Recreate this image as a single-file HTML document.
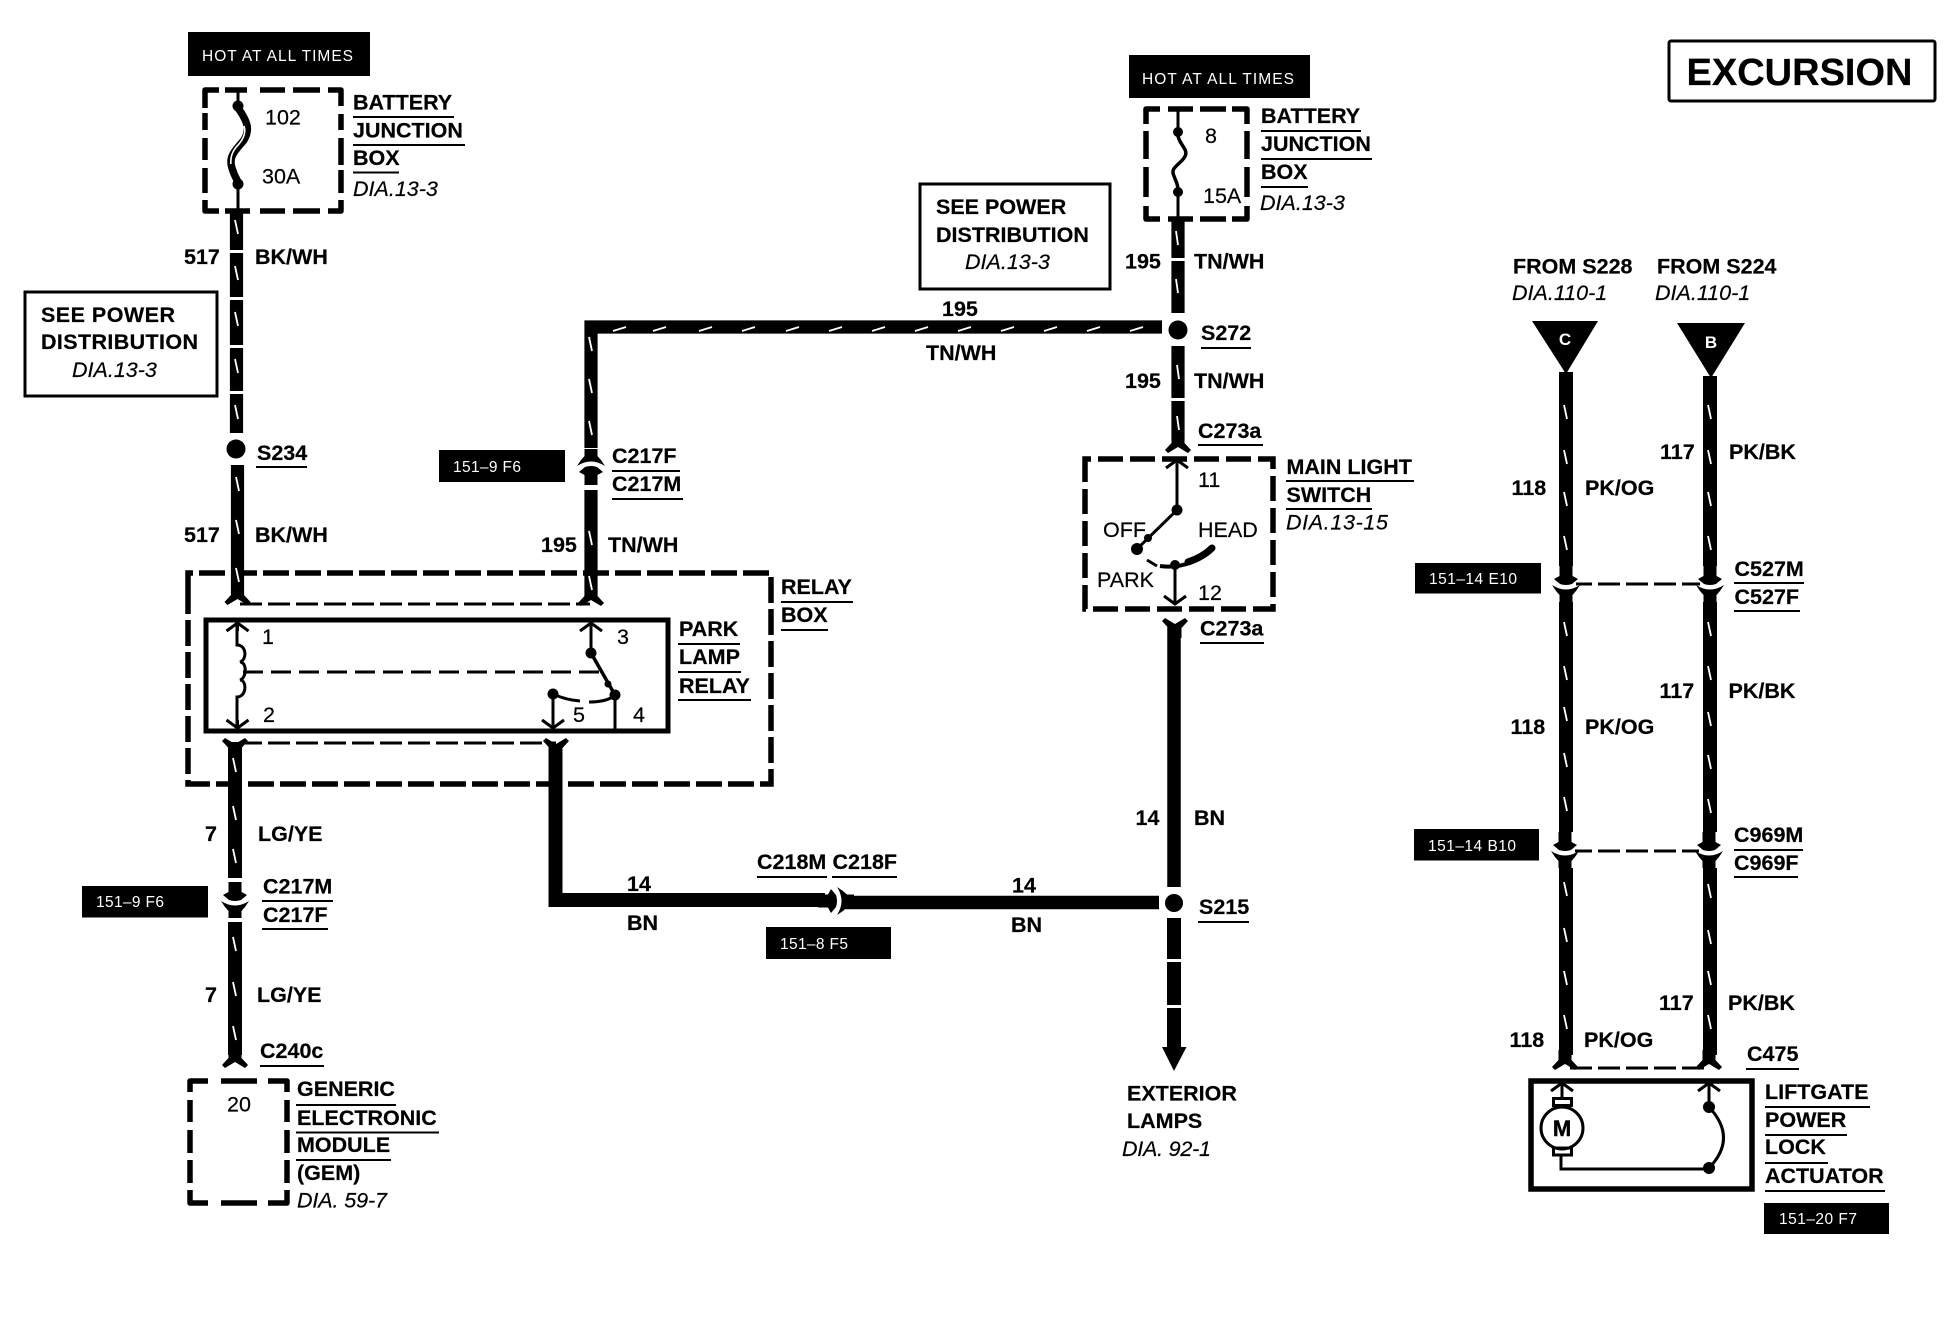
<!DOCTYPE html>
<html><head><meta charset="utf-8"><title>Excursion wiring diagram</title>
<style>
html,body{margin:0;padding:0;background:#fff}
svg{display:block}
text{font-family:"Liberation Sans",Arial,sans-serif;fill:#000;font-size:21.5px;stroke:#000;stroke-width:.2px}
.b{font-weight:bold;stroke-width:.4px}
.i{font-style:italic;stroke-width:.1px}
.w{fill:#fff;font-size:15.5px;stroke:none}
.g{stroke:#000;fill:none}
</style></head><body>
<svg xmlns="http://www.w3.org/2000/svg" width="1960" height="1344" viewBox="0 0 1960 1344">
<defs>
<g id="cd"><path d="M-6.5,-18H6.5V-8L12,-5 6,0Q0,2 -6,0L-12,-5 -6.5,-8Z"/><path d="M-14,1Q0,10 14,1L10,7 6.5,11V18H-6.5V11L-10,7Z"/></g>
<g id="cu"><use href="#cd" transform="scale(1,-1)"/></g>
<path id="fd" d="M-6.5,-16H6.5V-6L13,1 10,4 0,-2 -10,4 -13,1 -6.5,-6Z"/>
<path id="ca" d="M-11,8L0,0 11,8M0,0V8" fill="none" stroke="#000" stroke-width="3"/>
<path id="cv" d="M-11,-8L0,0 11,-8M0,0V-8" fill="none" stroke="#000" stroke-width="3"/>
</defs>
<rect width="1960" height="1344" fill="#fff"/>

<!-- black tag boxes -->
<g fill="#000">
<rect x="188" y="32" width="182" height="44"/>
<rect x="1129" y="55" width="181" height="43"/>
<rect x="439" y="450" width="126" height="32"/>
<rect x="82" y="886" width="126" height="31.5"/>
<rect x="766" y="927" width="125" height="32"/>
<rect x="1415" y="563" width="126" height="30.5"/>
<rect x="1414" y="829" width="125" height="31.5"/>
<rect x="1764" y="1203" width="125" height="31"/>
</g>
<text class="w" x="202" y="61" textLength="151">HOT AT ALL TIMES</text>
<text class="w" x="1142" y="84" textLength="152">HOT AT ALL TIMES</text>
<text class="w" x="453" y="472" textLength="68">151–9 F6</text>
<text class="w" x="96" y="907" textLength="68">151–9 F6</text>
<text class="w" x="780" y="949" textLength="68">151–8 F5</text>
<text class="w" x="1429" y="584" textLength="88">151–14 E10</text>
<text class="w" x="1428" y="851" textLength="88">151–14 B10</text>
<text class="w" x="1779" y="1224" textLength="78">151–20 F7</text>

<!-- solid label boxes -->
<g class="g" stroke-width="3">
<rect x="25" y="292" width="192" height="104"/>
<rect x="920" y="184" width="190" height="105"/>
<rect x="1669" y="41" width="266" height="60" rx="2"/>
</g>

<!-- dashed boxes -->
<g class="g" stroke-width="5.5" stroke-linejoin="round">
<path d="M205,108V90H219M225,90H247M260,90H285M293,90H320M328,90H341V106M341,114V130M341,138V165M341,170V193M341,200V211H328M320,211H293M285,211H260M250,211H225M219,211H205V200M205,193V168M205,160V138M205,130V113"/>
<path d="M1146,124V109H1160M1168,109H1193M1200,109H1226M1232,109H1247V124M1247,131V159M1247,167V197M1247,206V219H1232M1226,219H1200M1193,219H1168M1160,219H1146V206M1146,197V167M1146,159V131"/>
<path d="M190,1092V1081H208M221,1081H257M268,1081H287V1092M287,1100V1122M287,1130V1153M287,1160V1183M287,1190V1203H268M257,1203H221M208,1203H190V1190M190,1183V1160M190,1153V1130M190,1122V1100"/>
</g>
<path class="g" stroke-width="5.5" stroke-dasharray="26 6" d="M188,594V573H771V784H188Z"/>
<path class="g" stroke-width="5.5" stroke-dasharray="25 7" d="M1085,478V459H1273V609H1085Z"/>
<g class="g" stroke-width="3" stroke-dasharray="22 6">
<path d="M240,604H590"/>
<path d="M240,743H556"/>
<path d="M1570,584H1706"/>
<path d="M1570,851H1706"/>
<path d="M1570,1068H1706"/>
</g>
<rect class="g" x="206" y="620" width="462" height="111" stroke-width="5"/>
<rect class="g" x="1531" y="1081" width="221" height="108" stroke-width="5.5"/>

<!-- thick wires -->
<g class="g" stroke-width="13.2">
<path d="M236.5,213V250M236.5,253V297M236.5,300V345M236.5,348V391M236.5,394V433"/>
<path d="M237.5,465V595"/>
<path d="M591,597V327H1162" stroke-linejoin="miter"/>
<path d="M1178,219V258M1178,261V313M1178,346V398M1178,401V440"/>
<path d="M235,742V1055" stroke-width="14"/>
<path d="M1566,372V1055" stroke-width="14"/>
<path d="M1710,376V1055" stroke-width="14"/>
<path d="M1174,625V887" stroke-width="13.5"/>
<path d="M1174,918V959M1174,962V1005M1174,1008V1050" stroke-width="14"/>
<path d="M555.5,745V900H825" stroke-width="14"/>
<path d="M843,902.5H1159" stroke-width="13.5"/>
</g>
<rect x="583" y="440" width="16" height="50" fill="#fff"/>
<path d="M591,440V448" class="g" stroke-width="13.2"/>
<use href="#cu" x="591" y="467"/>
<rect x="225" y="878" width="20" height="44" fill="#fff"/>
<use href="#cd" x="235" y="900"/>
<rect x="1556" y="566" width="20" height="36" fill="#fff"/>
<use href="#cd" x="1566" y="584"/>
<rect x="1700" y="566" width="20" height="36" fill="#fff"/>
<use href="#cd" x="1710" y="584"/>
<rect x="1555" y="832" width="20" height="36" fill="#fff"/>
<use href="#cd" x="1565" y="850"/>
<rect x="1699" y="832" width="20" height="36" fill="#fff"/>
<use href="#cd" x="1709" y="850"/>
<g transform="translate(836,901) rotate(-90)"><use href="#cd"/></g>

<!-- forks -->
<use href="#fd" x="237.5" y="601"/>
<use href="#fd" x="591" y="602"/>
<use href="#fd" x="1178" y="449"/>
<use href="#fd" x="235" y="1064"/>
<use href="#fd" x="1565" y="1066"/>
<use href="#fd" x="1709" y="1066"/>
<g transform="translate(235,742) scale(1,-1)"><use href="#fd"/></g>
<g transform="translate(556,742) scale(1,-1)"><use href="#fd"/></g>
<g transform="translate(1175,622) scale(1,-1)"><use href="#fd"/></g>

<!-- arrowhead, triangles, splices -->
<path d="M1162,1047H1186.5L1174,1071Z"/>
<path d="M1532,321H1598L1566,374Z"/>
<path d="M1677,323H1745L1711,378Z"/>
<circle cx="236" cy="449" r="9.5"/>
<circle cx="1178" cy="330" r="9.5"/>
<circle cx="1174" cy="903" r="9"/>
<text class="b" x="1565" y="345" text-anchor="middle" style="fill:#fff;font-size:17px;stroke:none">C</text>
<text class="b" x="1711" y="348" text-anchor="middle" style="fill:#fff;font-size:17px;stroke:none">B</text>

<!-- white tracer ticks -->
<g stroke="#fff" stroke-width="1.8" fill="none">
<path d="M235,220l3,14M235,266l3,14M235,312l3,14M235,359l3,14M235,405l3,14M236,477l3,14M236,520l3,14M236,568l3,14"/>
<path d="M589,337l3,14M589,379l3,14M589,421l3,14M589,531l3,14M589,576l3,14"/>
<path d="M613,331l13,-4M653,331l13,-4M699,331l13,-4M742,331l13,-4M786,331l13,-4M829,331l13,-4M872,331l13,-4M915,331l13,-4M958,331l13,-4M1001,331l13,-4M1044,331l13,-4M1087,331l13,-4M1130,331l13,-4"/>
<path d="M1176,231l2,14M1176,279l2,14M1177,365l2,14M1177,416l2,14"/>
<path d="M233,758l3,14M233,806l3,14M233,849l3,14M233,937l3,14M233,982l3,14M233,1026l3,14"/>
<path d="M1564,405l3,14M1564,450l3,14M1564,492l3,14M1564,536l3,14M1564,622l3,14M1564,666l3,14M1564,707l3,14M1564,753l3,14M1564,797l3,14M1564,882l3,14M1564,928l3,14M1564,971l3,14M1564,1015l3,14"/>
<path d="M1708,405l3,14M1708,450l3,14M1708,492l3,14M1708,536l3,14M1708,622l3,14M1708,666l3,14M1708,712l3,14M1708,755l3,14M1708,799l3,14M1708,884l3,14M1708,930l3,14M1708,971l3,14M1708,1015l3,14"/>
</g>

<!-- fuses -->
<path class="g" stroke-width="3" d="M238,90V104M238,184V213M1178,109V132M1178,192V219"/>
<circle cx="238" cy="106" r="5.5"/><circle cx="238" cy="184" r="5.5"/>
<circle cx="1178" cy="132" r="5"/><circle cx="1178" cy="192" r="5"/>
<path class="g" stroke-width="7.5" d="M238,108C248,122 250,130 244,140C236,150 228,156 232,168C234,175 236,178 238,182"/>
<path stroke="#fff" stroke-width="1.6" fill="none" d="M244,126C246,132 244,138 239,144C233,150 230,156 231,164"/>
<path class="g" stroke-width="3.5" d="M1178,136C1180,146 1190,150 1184,158C1178,166 1170,168 1174,176C1176,182 1178,184 1178,190"/>

<!-- relay internals -->
<use href="#ca" x="237.5" y="623"/>
<use href="#cv" x="237.5" y="728"/>
<use href="#ca" x="591" y="623"/>
<use href="#cv" x="553" y="728"/>
<g class="g" stroke-width="3">
<path d="M237,625V645C247,645 247,660 240,662C247,662 247,678 240,680C247,680 247,697 237,697V728"/>
<path d="M243,672H603" stroke-dasharray="20 8"/>
<path d="M591,625V652M615,697V730M553,694V728"/>
<path d="M553,694Q566,700 580,701M589,702Q606,702 614,696"/>
</g>
<path class="g" stroke-width="3.5" d="M591,653L615,695"/>
<circle cx="591" cy="653" r="5.5"/><circle cx="615" cy="695" r="5.5"/><circle cx="553" cy="694" r="5.5"/>
<circle cx="608" cy="684" r="3.5"/>

<!-- main light switch internals -->
<use href="#ca" x="1177" y="460"/>
<use href="#cv" x="1175" y="604"/>
<g class="g" stroke-width="3">
<path d="M1177,462V510L1137,549"/>
<path d="M1175,566V602"/>
<path d="M1147,560L1157,566"/>
</g>
<path class="g" stroke-width="4" d="M1160,566Q1190,570 1212,548"/>
<path class="g" stroke-width="7" stroke-linecap="round" d="M1188,562Q1203,557 1212,548"/>
<circle cx="1177" cy="510" r="5.5"/><circle cx="1137" cy="549" r="6"/><circle cx="1175" cy="565" r="5"/>
<circle cx="1148" cy="538" r="4"/>

<!-- actuator internals -->
<use href="#ca" x="1562" y="1083"/>
<use href="#ca" x="1709" y="1083"/>
<g class="g" stroke-width="3">
<path d="M1562,1085V1098M1709,1085V1107"/>
<rect x="1553.5" y="1098.5" width="18" height="7"/>
<rect x="1553.5" y="1148" width="18" height="7"/>
<circle cx="1562" cy="1128" r="21"/>
<path d="M1561,1155V1169H1709"/>
<path d="M1709,1107Q1738,1138 1709,1168"/>
</g>
<circle cx="1709" cy="1107" r="6"/><circle cx="1709" cy="1168" r="6"/>
<text class="b" x="1562" y="1136" text-anchor="middle" style="font-size:22px">M</text>

<!-- underlines -->
<path class="g" stroke-width="2" d="M353,117H454M353,145H465M353,172.5H399M1261,131H1361M1261,159H1372M1261,187H1308M256,467H307M612,471H680M612,499H683M1201,348H1251M1198,445H1263M1286,481H1414M1286,509H1372M1200,643H1264M781,602H853M781,630H828M678,644H740M678,672H741M678,700H751M262,901H333M262,929H328M260,1066H324M296,1105H396M296,1132.5H439M296,1160H391M757,877H827M832,877H897M1198,922H1249M1734,583H1804M1734,611H1800M1734,850H1803M1734,877H1798M1746,1069H1799M1765,1107H1870M1765,1135H1847M1765,1163H1828M1765,1191H1885"/>

<!-- bold labels -->
<g class="b">
<text x="353" y="109.5">BATTERY</text>
<text x="353" y="137.5">JUNCTION</text>
<text x="353" y="165">BOX</text>
<text x="1261" y="123">BATTERY</text>
<text x="1261" y="151">JUNCTION</text>
<text x="1261" y="179">BOX</text>
<text x="41" y="322" textLength="134">SEE POWER</text>
<text x="41" y="349" textLength="157">DISTRIBUTION</text>
<text x="936" y="214">SEE POWER</text>
<text x="936" y="242">DISTRIBUTION</text>
<text x="184" y="264">517</text>
<text x="255" y="264">BK/WH</text>
<text x="257" y="460">S234</text>
<text x="184" y="542">517</text>
<text x="255" y="542">BK/WH</text>
<text x="612" y="463">C217F</text>
<text x="612" y="491">C217M</text>
<text x="541" y="552">195</text>
<text x="608" y="552">TN/WH</text>
<text x="942" y="316">195</text>
<text x="926" y="360">TN/WH</text>
<text x="1125" y="268.5">195</text>
<text x="1194" y="268.5">TN/WH</text>
<text x="1201" y="340">S272</text>
<text x="1125" y="388">195</text>
<text x="1194" y="388">TN/WH</text>
<text x="1198" y="438">C273a</text>
<text x="1200" y="635.5">C273a</text>
<text x="1286.5" y="474">MAIN LIGHT</text>
<text x="1286.5" y="502">SWITCH</text>
<text x="781" y="594">RELAY</text>
<text x="781" y="622">BOX</text>
<text x="679" y="636">PARK</text>
<text x="679" y="664">LAMP</text>
<text x="679" y="693">RELAY</text>
<text x="205" y="841">7</text>
<text x="258" y="841">LG/YE</text>
<text x="263" y="893.5">C217M</text>
<text x="263" y="922">C217F</text>
<text x="205" y="1002">7</text>
<text x="257" y="1002">LG/YE</text>
<text x="260" y="1058">C240c</text>
<text x="297" y="1096">GENERIC</text>
<text x="297" y="1125">ELECTRONIC</text>
<text x="297" y="1152">MODULE</text>
<text x="297" y="1180">(GEM)</text>
<text x="627" y="891">14</text>
<text x="627" y="930">BN</text>
<text x="757" y="869">C218M</text>
<text x="832.5" y="869">C218F</text>
<text x="1012" y="892.5">14</text>
<text x="1011" y="932">BN</text>
<text x="1135.5" y="825">14</text>
<text x="1194" y="825">BN</text>
<text x="1199" y="914">S215</text>
<text x="1127" y="1100.5">EXTERIOR</text>
<text x="1127" y="1128">LAMPS</text>
<text x="1513" y="273.5">FROM S228</text>
<text x="1657" y="273.5">FROM S224</text>
<text x="1511.5" y="495">118</text>
<text x="1585" y="495">PK/OG</text>
<text x="1660" y="459">117</text>
<text x="1729" y="459">PK/BK</text>
<text x="1734.5" y="576">C527M</text>
<text x="1734.5" y="604">C527F</text>
<text x="1659.5" y="698">117</text>
<text x="1728.5" y="698">PK/BK</text>
<text x="1510.5" y="734">118</text>
<text x="1585" y="734">PK/OG</text>
<text x="1734" y="842">C969M</text>
<text x="1734" y="870">C969F</text>
<text x="1659" y="1010">117</text>
<text x="1728" y="1010">PK/BK</text>
<text x="1509.5" y="1047">118</text>
<text x="1584" y="1047">PK/OG</text>
<text x="1747" y="1061">C475</text>
<text x="1765" y="1099">LIFTGATE</text>
<text x="1765" y="1127">POWER</text>
<text x="1765" y="1154">LOCK</text>
<text x="1765" y="1183">ACTUATOR</text>
<text x="1686.5" y="85" textLength="226" style="font-size:38px">EXCURSION</text>
</g>

<!-- italic references -->
<g class="i">
<text x="353" y="196">DIA.13-3</text>
<text x="1260" y="210">DIA.13-3</text>
<text x="72" y="377">DIA.13-3</text>
<text x="965" y="269">DIA.13-3</text>
<text x="1286" y="529.5" textLength="102">DIA.13-15</text>
<text x="297" y="1207.5" textLength="90">DIA. 59-7</text>
<text x="1122" y="1156" textLength="89">DIA. 92-1</text>
<text x="1512" y="300">DIA.110-1</text>
<text x="1655" y="300">DIA.110-1</text>
</g>

<!-- regular labels -->
<g>
<text x="265" y="124.5">102</text>
<text x="262" y="183.5">30A</text>
<text x="1205" y="143">8</text>
<text x="1203" y="203">15A</text>
<text x="262" y="644">1</text>
<text x="617" y="644">3</text>
<text x="263" y="722">2</text>
<text x="573" y="722">5</text>
<text x="633" y="722">4</text>
<text x="1198" y="487">11</text>
<text x="1103" y="537">OFF</text>
<text x="1198" y="537">HEAD</text>
<text x="1097" y="587">PARK</text>
<text x="1198" y="600">12</text>
<text x="227" y="1111.5">20</text>
</g>
</svg>
</body></html>
